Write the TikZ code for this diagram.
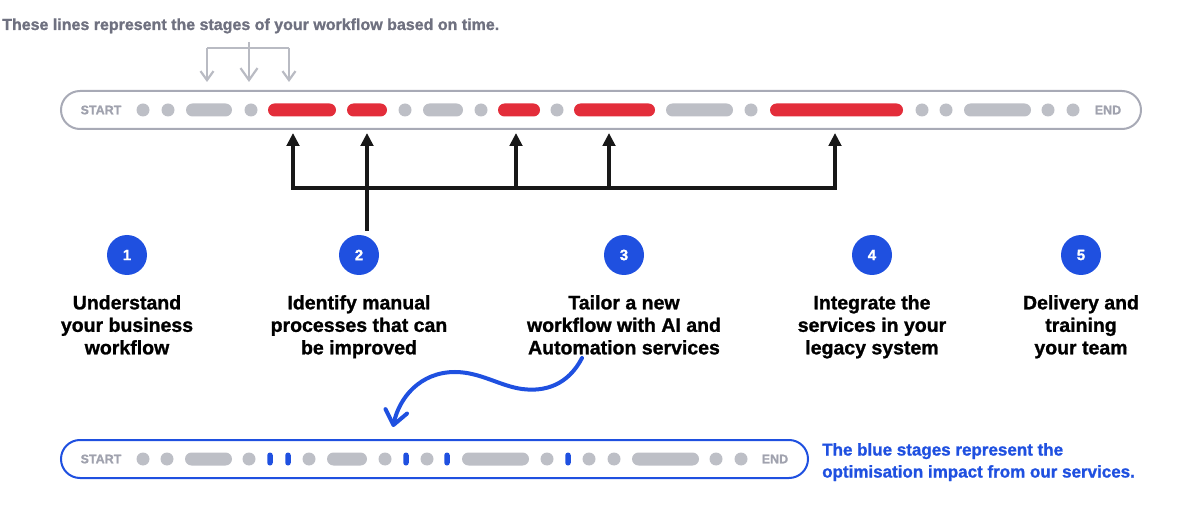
\documentclass[tikz,border=0pt]{standalone}
\usepackage{fontspec}
\setmainfont{Liberation Sans}[BoldFeatures={FakeBold=1.2}]
\usetikzlibrary{arrows.meta,positioning}
\definecolor{inkgray}{RGB}{111,113,128}
\definecolor{barline}{RGB}{168,170,182}
\definecolor{pillgray}{RGB}{189,191,198}
\definecolor{labelgray}{RGB}{160,162,174}
\definecolor{hintgray}{RGB}{185,187,195}
\definecolor{stagered}{RGB}{227,45,58}
\definecolor{brandblue}{RGB}{31,80,224}
\definecolor{inkblack}{RGB}{24,24,24}

\begin{document}
\begin{tikzpicture}[x=1pt,y=-1pt,every node/.style={font=\bfseries,inner sep=0pt,align=center},
  stagedot/.style={circle,fill=pillgray,minimum size=13pt},
  greypill/.style={rectangle,rounded corners=6.5pt,fill=pillgray,minimum height=13pt},
  redpill/.style={greypill,fill=stagered},
  bluetick/.style={rectangle,rounded corners=2.7pt,fill=brandblue,minimum width=5.5pt,minimum height=13pt},
  timeline/.style={rectangle,rounded corners=19pt,line width=2pt,minimum height=38pt},
  barlabel/.style={text=labelgray,font=\bfseries\fontsize{12.5}{14}\selectfont},
  stepnum/.style={circle,fill=brandblue,text=white,minimum size=40pt,font=\bfseries\fontsize{15}{17}\selectfont},
  stagetext/.style={anchor=north,font=\bfseries\fontsize{19.5}{22.5}\selectfont},
  feeder/.style={line width=3.5pt,draw=inkblack,shorten >=3pt,-{Triangle[length=13pt,width=12.5pt]}},
  hintarrow/.style={line width=2.2pt,draw=hintgray,shorten >=8pt,-{Straight Barb[length=9pt,width=13pt]}},
  curvearrow/.style={line width=4pt,draw=brandblue,line cap=round,-{Straight Barb[length=14pt,width=22pt,round]}}]
\useasboundingbox (0,0) rectangle (1200,529);

% heading and the little pointer
\node[anchor=base west,text=inkgray,font=\bfseries\fontsize{16}{19}\selectfont] (heading) at (2,30)
  {These lines represent the stages of your workflow based on time.};

% current workflow
\node[timeline,draw=barline,minimum width=1080pt] (topbar) at (601,110) {};
\node[barlabel] (start1) at (101,110) {START};
\node[barlabel] (end1) at (1108,110) {END};
\foreach \x in {143,168,251,405,481,557,751,922,946,1048,1073}
  \node[stagedot] at (\x,110) {};
\foreach \a/\b in {186/232,423/463,666/733,964/1031}
  \node[greypill,minimum width={\b-\a}] at ({(\a+\b)/2},110) {};
\foreach \a/\b [count=\i] in {268/336,347/387,498/540,574/655,770/903}
  \node[redpill,minimum width={\b-\a}] (r\i) at ({(\a+\b)/2},110) {};

\coordinate (hl) at (207,48);
\coordinate (hm) at (249,42);
\coordinate (hr) at (289,48);
\draw[line width=2.2pt,hintgray,line join=round] (hl) -- (hr);
\draw[hintarrow] (hl) -- (hl |- topbar.north);
\draw[hintarrow,-{Straight Barb[length=12pt,width=17pt]}] (hm) -- (hm |- topbar.north);
\draw[hintarrow] (hr) -- (hr |- topbar.north);

% steps
\node[stepnum] (n1) at (127,255) {1};
\node[stepnum] (n2) at (359,255) {2};
\node[stepnum] (n3) at (624,255) {3};
\node[stepnum] (n4) at (872,255) {4};
\node[stepnum] (n5) at (1081,255) {5};
\node[stagetext] (s1) at (127,295) {Understand\\your business\\workflow};
\node[stagetext] (s2) at (359,295) {Identify manual\\processes that can\\be improved};
\node[stagetext] (s3) at (624,295) {Tailor a new\\workflow with AI and\\Automation services};
\node[stagetext] (s4) at (872,295) {Integrate the\\services in your\\legacy system};
\node[stagetext] (s5) at (1081,295) {Delivery and\\training\\your team};

% step 2 feeds the red stages
\coordinate (f1) at (293,188);
\coordinate (f3) at (516,188);
\coordinate (f4) at (609,188);
\coordinate (f5) at (835,188);
\draw[line width=3.5pt,inkblack] ([xshift=-1.75pt]f1) -- ([xshift=1.75pt]f5);
\foreach \f in {f1,f3,f4,f5}
  \draw[feeder] (\f) -- (\f |- topbar.south);
\draw[feeder,shorten <=4pt] (r2 |- n2.north) -- (r2 |- topbar.south);

% optimised workflow
\node[timeline,draw=brandblue,minimum width=747pt] (lowbar) at (434.5,459) {};
\node[barlabel] (start2) at (101,459) {START};
\node[barlabel] (end2) at (775,459) {END};
\foreach \x in {143,167,249,309,385,427,547,589,614,716,741}
  \node[stagedot] at (\x,459) {};
\foreach \a/\b in {185/232,327/367,462/529,632/699}
  \node[greypill,minimum width={\b-\a}] at ({(\a+\b)/2},459) {};
\foreach \x in {270,288,406,447,568}
  \node[bluetick] at (\x,459) {};
\node[anchor=north west,align=left,text=brandblue,font=\bfseries\fontsize{17}{22}\selectfont] (impact) at (822,443)
  {The blue stages represent the\\optimisation impact from our services.};

\coordinate (cstart) at (582,358);
\coordinate (ctip) at (393,427);
\draw[curvearrow] (cstart) .. controls (568,385) and (545,392) .. (522,389)
  .. controls (500,386) and (480,372) .. (455,372)
  .. controls (420,372) and (399,398) .. (ctip);
\end{tikzpicture}
\end{document}
